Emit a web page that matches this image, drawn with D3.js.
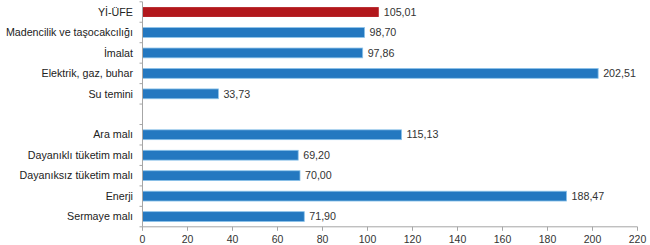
<!DOCTYPE html>
<html><head><meta charset="utf-8">
<script src="https://cdn.jsdelivr.net/npm/d3@7"></script>
<style>body{margin:0;background:#fff}svg{display:block}text{font-family:"Liberation Sans",Arial,sans-serif}</style>
</head><body><svg id="c" width="650" height="245"></svg>
<script>
const categories = ["Yİ-ÜFE","Madencilik ve taşocakcılığı","İmalat","Elektrik, gaz, buhar","Su temini","","Ara malı","Dayanıklı tüketim malı","Dayanıksız tüketim malı","Enerji","Sermaye malı"];
const values = [105.01,98.70,97.86,202.51,33.73,null,115.13,69.20,70.00,188.47,71.90];
const labels = ["105,01","98,70","97,86","202,51","33,73","","115,13","69,20","70,00","188,47","71,90"];
const xTicks = [0,20,40,60,80,100,120,140,160,180,200,220];

const svg = d3.select("#c");
const x = d3.scaleLinear().domain([0,220]).range([142.5,637.5]);
const y = d3.scaleBand().domain(d3.range(categories.length)).range([1.8,226.8]).paddingInner(0.52).paddingOuter(0.26);
const yb = d3.scaleBand().domain(d3.range(categories.length)).range([1.8,226.8]);

const data = categories.map((c,i)=>({c,v:values[i],l:labels[i],i}));

// bars
svg.append("g").selectAll("rect").data(data.filter(d=>d.v!=null)).join("rect")
  .attr("x", x(0)).attr("y", d=>y(d.i)).attr("width", d=>x(d.v)-x(0)).attr("height", y.bandwidth())
  .attr("fill", d=>d.i===0?"#B2171C":"#2478C0")
  .attr("stroke", d=>d.i===0?"none":"#8CC3EA").attr("stroke-width",0.8);

// value labels
svg.append("g").selectAll("text").data(data.filter(d=>d.v!=null)).join("text")
  .attr("x", d=>x(d.v)+5).attr("y", d=>y(d.i)+y.bandwidth()/2).attr("dy","0.35em")
  .attr("font-size",10.7).attr("fill","#333").text(d=>d.l);

// y axis
const gy = svg.append("g");
gy.append("line").attr("x1",x(0)).attr("x2",x(0)).attr("y1",1.8).attr("y2",226.8).attr("stroke","#a6a6a6");
gy.selectAll("line.t").data(d3.range(categories.length+1)).join("line").attr("class","t")
  .attr("x1",x(0)-3).attr("x2",x(0)).attr("y1",i=>i<categories.length?yb(i):226.8).attr("y2",i=>i<categories.length?yb(i):226.8)
  .attr("stroke","#a6a6a6");
gy.selectAll("text").data(data).join("text")
  .attr("x",133).attr("y",d=>yb(d.i)+yb.bandwidth()/2).attr("dy","0.35em").attr("text-anchor","end")
  .attr("font-size",10.7).attr("fill","#222").text(d=>d.c);

// x axis
const gx = svg.append("g").attr("transform","translate(0,226.8)");
gx.append("line").attr("x1",x(0)).attr("x2",x(220)).attr("stroke","#a6a6a6");
gx.selectAll("line.t").data(xTicks).join("line").attr("class","t")
  .attr("x1",d=>x(d)).attr("x2",d=>x(d)).attr("y1",0).attr("y2",4).attr("stroke","#a6a6a6");
gx.selectAll("text").data(xTicks).join("text")
  .attr("x",d=>x(d)).attr("y",13).attr("dy","0.35em").attr("text-anchor","middle")
  .attr("font-size",10.5).attr("fill","#333").text(d=>d);
</script></body></html>
